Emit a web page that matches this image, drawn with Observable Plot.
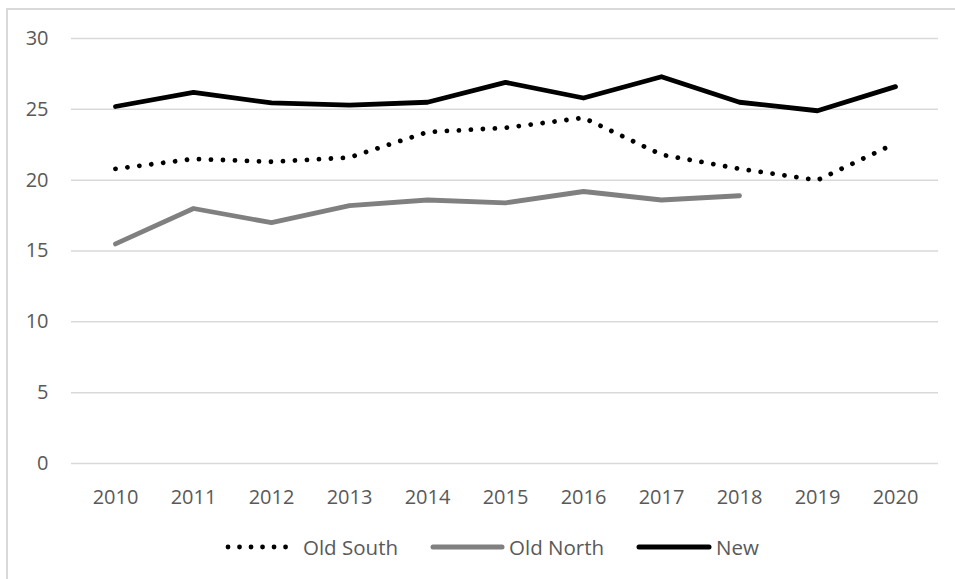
<!DOCTYPE html>
<html>
<head>
<meta charset="utf-8">
<script src="https://cdn.jsdelivr.net/npm/d3@7"></script>
<script src="https://cdn.jsdelivr.net/npm/@observablehq/plot@0.6"></script>
<style>
  html, body { margin: 0; padding: 0; background: #fff; }
  #wrap { position: relative; width: 955px; height: 579px; overflow: hidden; font-family: "Open Sans", sans-serif; }
  #frame { position: absolute; left: 6px; top: 8px; width: 1000px; height: 1000px; border-left: 2px solid #d9d9d9; border-top: 2px solid #d9d9d9; }
  #chart { position: absolute; left: 0; top: 0; }
  #legend { position: absolute; left: 225px; top: 533px; height: 28px; display: flex; align-items: center; font-size: 20.5px; color: #595959; }
  .item { display: flex; align-items: center; }
  .item svg { display: block; }
</style>
</head>
<body>
<div id="wrap">
  <div id="frame"></div>
  <div id="chart"></div>
  <div id="legend"></div>
</div>
<script>
const years = ["2010","2011","2012","2013","2014","2015","2016","2017","2018","2019","2020"];
const oldSouth = [20.8, 21.5, 21.3, 21.6, 23.4, 23.7, 24.4, 21.8, 20.8, 20.0, 22.6];
const oldNorth = [15.5, 18.0, 17.0, 18.2, 18.6, 18.4, 19.2, 18.6, 18.9, null, null];
const newSeries = [25.2, 26.2, 25.45, 25.3, 25.5, 26.9, 25.8, 27.3, 25.5, 24.9, 26.6];
const yTicks = [0, 5, 10, 15, 20, 25, 30];
const seriesNames = ["Old South", "Old North", "New"];

const toRows = (vals, name) => years.map((y, i) => ({year: y, value: vals[i], series: name})).filter(d => d.value != null);
const southRows = toRows(oldSouth, seriesNames[0]);
const northRows = toRows(oldNorth, seriesNames[1]);
const newRows = toRows(newSeries, seriesNames[2]);

const styles = {
  "Old South": {stroke: "#000000", strokeWidth: 4.8, strokeDasharray: "0.01 12", strokeLinecap: "round"},
  "Old North": {stroke: "#808080", strokeWidth: 4.8, strokeLinecap: "round"},
  "New": {stroke: "#000000", strokeWidth: 4.8, strokeLinecap: "round"}
};

const chart = Plot.plot({
  width: 955,
  height: 520,
  marginLeft: 71,
  marginRight: 17,
  marginTop: 38,
  marginBottom: 57,
  style: {fontFamily: "Open Sans, sans-serif", fontSize: "20px", color: "#595959", background: "transparent"},
  x: {type: "point", domain: years, padding: 0.5, label: null, tickSize: 0, tickPadding: 26},
  y: {domain: [0, 30], ticks: yTicks, label: null, tickSize: 0, tickPadding: 23},
  marks: [
    Plot.ruleY(yTicks, {stroke: "#d9d9d9", strokeWidth: 1.5}),
    Plot.line(northRows, {x: "year", y: "value", ...styles["Old North"], strokeLinejoin: "round"}),
    Plot.line(southRows, {x: "year", y: "value", ...styles["Old South"], strokeLinejoin: "round"}),
    Plot.line(newRows, {x: "year", y: "value", ...styles["New"], strokeLinejoin: "round"})
  ]
});
document.getElementById("chart").appendChild(chart);

// Legend
const legend = document.getElementById("legend");
const swatchW = {"Old South": 66, "Old North": 75, "New": 76};
const gapAfter = {"Old South": 32, "Old North": 32, "New": 0};
seriesNames.forEach(name => {
  const s = styles[name];
  const item = document.createElement("div");
  item.className = "item";
  item.style.marginRight = gapAfter[name] + "px";
  const w = swatchW[name];
  const svgNS = "http://www.w3.org/2000/svg";
  const sv = document.createElementNS(svgNS, "svg");
  sv.setAttribute("width", w);
  sv.setAttribute("height", 10);
  const ln = document.createElementNS(svgNS, "line");
  ln.setAttribute("x1", 3); ln.setAttribute("x2", w - 3);
  ln.setAttribute("y1", 5); ln.setAttribute("y2", 5);
  ln.setAttribute("stroke", s.stroke);
  ln.setAttribute("stroke-width", name === "Old South" ? 4.8 : 5);
  ln.setAttribute("stroke-linecap", "round");
  if (name === "Old South") ln.setAttribute("stroke-dasharray", "0.01 11.5");
  sv.appendChild(ln);
  item.appendChild(sv);
  const t = document.createElement("span");
  t.textContent = name;
  t.style.marginLeft = name === "Old South" ? "12px" : "4px";
  item.appendChild(t);
  legend.appendChild(item);
});
</script>
</body>
</html>
